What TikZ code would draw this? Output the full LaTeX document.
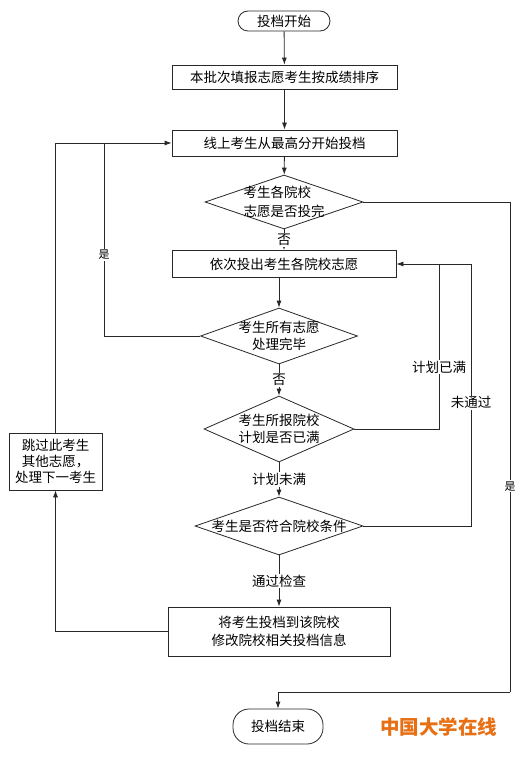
\documentclass[tikz,border=0pt]{standalone}
\usepackage{fontspec}
\setmainfont{Noto Sans CJK SC}
\usetikzlibrary{shapes.geometric,arrows.meta,calc}
\definecolor{wmorange}{RGB}{232,112,20}
\definecolor{ln}{RGB}{40,40,40}
\begin{document}
\begin{tikzpicture}[x=1pt,y=-1pt,
  base/.style={font=\fontsize{13.5}{17.5}\selectfont, text=black},
  box/.style={base, draw=ln, line width=0.8pt, rectangle, inner sep=0pt, align=center},
  term/.style={box, rounded corners=10pt},
  dia/.style={draw=ln, line width=0.8pt, diamond, inner sep=0pt},
  lbl/.style={base, fill=white, inner sep=1pt},
  smlbl/.style={font=\fontsize{11}{13}\selectfont, fill=white, inner sep=1pt},
  conn/.style={draw=ln, line width=0.8pt},
  arr/.style={conn, -{Latex[length=7pt,width=5pt]}}]
\fill[white] (0,0) rectangle (530,757);
\useasboundingbox (0,0) rectangle (530,757);

\node[term, minimum width=92pt, minimum height=20pt] (start) at (284,21) {投档开始};
\node[box, minimum width=225pt, minimum height=24pt] (b1) at (284.5,77) {本批次填报志愿考生按成绩排序};
\node[box, minimum width=225pt, minimum height=26pt] (b2) at (284.5,143) {线上考生从最高分开始投档};
\node[dia, minimum width=158pt, minimum height=54pt] (d1) at (284,202) {};
\node[base, align=left] (t1) at (d1) {考生各院校\\[1pt]志愿是否投完};
\node[box, minimum width=224pt, minimum height=27pt] (b3) at (284,264) {依次投出考生各院校志愿};
\node[dia, minimum width=157pt, minimum height=56pt] (d2) at (279,336) {};
\node[base, align=center] (t2) at (d2) {考生所有志愿\\处理完毕};
\node[dia, minimum width=150pt, minimum height=66pt] (d3) at (279,429) {};
\node[base, align=left] (t3) at (d3) {考生所报院校\\计划是否已满};
\node[dia, minimum width=168pt, minimum height=58pt] (d4) at (279,526) {};
\node[base] (t4) at (d4) {考生是否符合院校条件};
\node[box, minimum width=222pt, minimum height=49pt] (b5) at (279,631.5) {将考生投档到该院校\\修改院校相关投档信息};
\node[box, minimum width=93pt, minimum height=57pt, font=\fontsize{13.5}{16}\selectfont] (b4) at (55.5,461.5) {跳过此考生\\其他志愿，\\处理下一考生};
\node[term, rounded corners=16pt, minimum width=90pt, minimum height=35pt] (end) at (278,726.5) {投档结束};

\node[font=\fontsize{19.5}{22}\selectfont\bfseries, text=wmorange] (wm) at (438.5,727) {中国大学在线};

\coordinate (j1) at (104,143);
\coordinate (j2) at (439,264);
\coordinate (j3) at (471,264);
\coordinate (j4) at (510,692);

\draw[arr] (start) -- (b1);
\draw[arr] (b1) -- (b2);
\draw[arr] (b2) -- (d1);
\draw[arr] (d1) -- node[lbl]{否} (b3);
\draw[arr] (b3.south -| d2.north) -- (d2.north);
\draw[arr] (d2) -- node[lbl]{否} (d3);
\draw[arr] (d3) -- node[lbl]{计划未满} (d4);
\draw[arr] (d4) -- node[lbl]{通过检查} (b5);

\draw[arr] (b5.west) -| (b4.south);
\draw[arr] (b4.north) |- (b2.west);
\draw[conn] (d2.west) -| node[smlbl, pos=0.71]{是} (j1);

\draw[conn] (d3.east) -| node[lbl, pos=0.688]{计划已满} (j2);
\draw[conn] (d4.east) -| node[lbl, pos=0.735]{未通过} (j3);
\draw[arr] (j3) -- (b3.east);

\draw[conn] (d1.east) -| node[smlbl, pos=0.79]{是} (j4);
\draw[arr] (j4) -| (end.north);
\end{tikzpicture}
\end{document}
